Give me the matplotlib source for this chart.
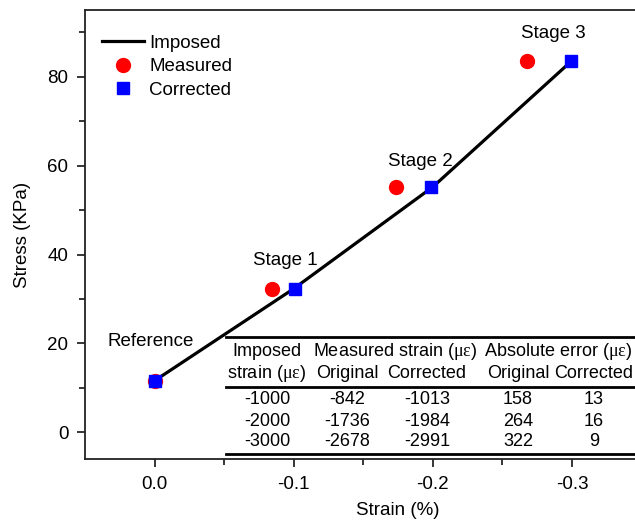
import matplotlib

matplotlib.use("Agg")
import matplotlib.pyplot as plt
from matplotlib.lines import Line2D

plt.rcParams["font.family"] = ["Liberation Sans", "DejaVu Sans"]
plt.rcParams["mathtext.fontset"] = "custom"
plt.rcParams["mathtext.rm"] = "Liberation Serif"
plt.rcParams["mathtext.it"] = "Liberation Serif"

# table data (micro strain)
imposed = [0, -1000, -2000, -3000]
measured = [0, -842, -1736, -2678]
corrected = [0, -1013, -1984, -2991]
err_orig = [158, 264, 322]
err_corr = [13, 16, 9]

# stress at each stage (KPa)
stress = [11.6, 32.3, 55.2, 83.6]
stage_labels = ["Reference", "Stage 1", "Stage 2", "Stage 3"]

W, H = 635, 524
fig = plt.figure(figsize=(W / 100, H / 100), dpi=100)

ax_l, ax_r, ax_t, ax_b = 85, 711, 10, 459
ax = fig.add_axes([ax_l / W, 1 - ax_b / H, (ax_r - ax_l) / W, (ax_b - ax_t) / H])

to_pct = lambda v: [x / 10000 for x in v]

ax.plot(to_pct(imposed), stress, color="black", lw=2.3, label="Imposed", zorder=2)
ax.plot(to_pct(measured), stress, "o", color="#ff0000", ms=10, mec="#ff0000",
        ls="none", label="Measured", zorder=3)
ax.plot(to_pct(corrected), stress, "s", color="#0000ff", ms=9, mec="#0000ff",
        ls="none", label="Corrected", zorder=4)

# stage annotations
label_pos = [(0.003, 20.5), (-0.094, 38.6), (-0.191, 61.0), (-0.287, 89.8)]
for txt, (x, y) in zip(stage_labels, label_pos):
    ax.text(x, y, txt, fontsize=13.5, ha="center", va="center")

ax.set_xlim(0.05, -0.40)
ax.set_ylim(-6, 95)
ax.set_xticks([0.0, -0.1, -0.2, -0.3])
ax.set_xticklabels(["0.0", "-0.1", "-0.2", "-0.3"])
ax.set_xticks([-0.05, -0.15, -0.25, -0.35], minor=True)
ax.set_yticks([0, 20, 40, 60, 80])
ax.set_yticks([10, 30, 50, 70, 90], minor=True)
ax.tick_params(which="major", direction="out", length=6, width=1.1, labelsize=13.5)
ax.tick_params(axis="x", which="major", pad=6.5)
ax.tick_params(axis="y", which="major", pad=6)
ax.tick_params(which="minor", direction="out", length=4, width=1.1)
for s in ax.spines.values():
    s.set_linewidth(1.3)
    s.set_color("#222222")

ax.set_xlabel("Strain (%)", fontsize=13.5, labelpad=6)
ax.set_ylabel("Stress (KPa)", fontsize=13.5, labelpad=12)

ax.legend(loc="upper left", frameon=False, fontsize=13.5, handlelength=2.2,
          handletextpad=0.3, labelspacing=0.35, borderaxespad=0.9,
          bbox_to_anchor=(-0.011, 1.0))

# embedded table
def fx(px):
    return px / W


def fy(py):
    return 1 - py / H


mu = r"($\mu\varepsilon$)"
col_x = [267, 347, 427, 518, 594]
row_y = [399, 421, 442]
tfs = 13

fig.text(fx(267), fy(351), "Imposed", fontsize=tfs, ha="center", va="center")
fig.text(fx(395), fy(351), "Measured strain " + mu, fontsize=tfs, ha="center", va="center")
fig.text(fx(558), fy(351), "Absolute error " + mu, fontsize=tfs, ha="center", va="center")
sub = ["strain " + mu, "Original", "Corrected", "Original", "Corrected"]
for cx, t in zip(col_x, sub):
    fig.text(fx(cx), fy(373), t, fontsize=tfs, ha="center", va="center")

for i, ry in enumerate(row_y):
    vals = [imposed[i + 1], measured[i + 1], corrected[i + 1], err_orig[i], err_corr[i]]
    for cx, v in zip(col_x, vals):
        fig.text(fx(cx), fy(ry), str(v), fontsize=tfs, ha="center", va="center")

for ly, lw in [(337, 2.0), (387, 2.0), (454, 2.0)]:
    fig.add_artist(Line2D([fx(226), fx(700)], [fy(ly), fy(ly)], color="black", lw=lw))

fig.savefig("out.png", dpi=100)
